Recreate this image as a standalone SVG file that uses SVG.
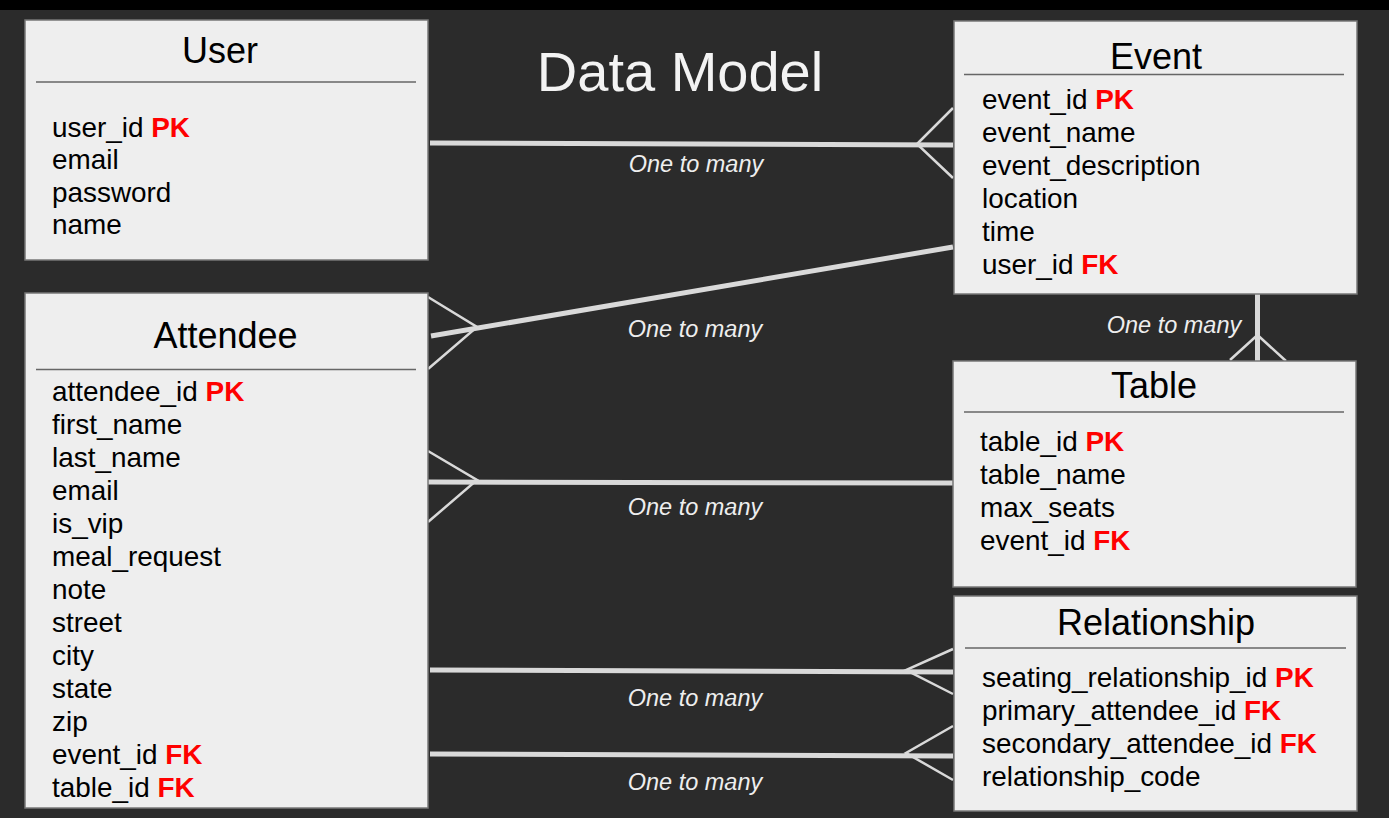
<svg xmlns="http://www.w3.org/2000/svg" width="1389" height="818" viewBox="0 0 1389 818">
<style>
.box{fill:#eeeeee;stroke:#777777;stroke-width:1.5}
.div{stroke:#666666;stroke-width:1.5}
.title{font-family:"Liberation Sans",Arial,sans-serif;font-size:36px;fill:#000;text-anchor:middle}
.f{font-family:"Liberation Sans",Arial,sans-serif;font-size:27.9px;fill:#000}
.k{fill:#ff0000;font-weight:bold}
.main{font-family:"Liberation Sans",Arial,sans-serif;font-size:56px;fill:#f3f3f3;text-anchor:middle}
.lbl{font-family:"Liberation Sans",Arial,sans-serif;font-size:23.5px;font-style:italic;fill:#eeeeee;text-anchor:middle}
.thick{stroke:#d9d9d9;stroke-width:5;fill:none}
.thin{stroke:#d9d9d9;stroke-width:2.5;fill:none}
</style>
<rect x="0" y="0" width="1389" height="818" fill="#2b2b2b"/>
<rect x="0" y="0" width="1389" height="10" fill="#000000"/>
<text class="main" x="680" y="91">Data Model</text>

<g id="connectors">
  <line class="thick" x1="430" y1="143" x2="953" y2="145"/>
  <polyline class="thin" points="953,108 917,144 953,178"/>
  <text class="lbl" x="696" y="172">One to many</text>

  <line class="thick" x1="431" y1="336" x2="953" y2="247"/>
  <polyline class="thin" points="428,297 477,327 428,369"/>
  <text class="lbl" x="695" y="337">One to many</text>

  <line class="thick" x1="1257.5" y1="294" x2="1257.5" y2="361"/>
  <polyline class="thin" points="1230,360 1257.5,335 1286,361"/>
  <text class="lbl" x="1174" y="333">One to many</text>

  <line class="thick" x1="428" y1="482" x2="953" y2="483"/>
  <polyline class="thin" points="428,451 477,480 428,522"/>
  <text class="lbl" x="695" y="515">One to many</text>

  <line class="thick" x1="430" y1="670" x2="953" y2="672"/>
  <polyline class="thin" points="953,649 906,670 953,694"/>
  <text class="lbl" x="695" y="706">One to many</text>

  <line class="thick" x1="430" y1="754" x2="953" y2="756"/>
  <polyline class="thin" points="953,726 906,753 953,780"/>
  <text class="lbl" x="695" y="790">One to many</text>
</g>

<g id="user">
  <rect class="box" x="25" y="20" width="403" height="240"/>
  <text class="title" x="220" y="63">User</text>
  <line class="div" x1="36" y1="82" x2="416" y2="82"/>
  <text class="f" x="52" y="136.5">user_id <tspan class="k">PK</tspan></text>
  <text class="f" x="52" y="169">email</text>
  <text class="f" x="52" y="201.7">password</text>
  <text class="f" x="52" y="234.3">name</text>
</g>

<g id="event">
  <rect class="box" x="954" y="21" width="403" height="273"/>
  <text class="title" x="1156" y="69">Event</text>
  <line class="div" x1="964" y1="74.5" x2="1344" y2="74.5"/>
  <text class="f" x="982" y="109">event_id <tspan class="k">PK</tspan></text>
  <text class="f" x="982" y="142">event_name</text>
  <text class="f" x="982" y="175">event_description</text>
  <text class="f" x="982" y="208">location</text>
  <text class="f" x="982" y="241">time</text>
  <text class="f" x="982" y="274">user_id <tspan class="k">FK</tspan></text>
</g>

<g id="attendee">
  <rect class="box" x="25" y="293" width="403" height="515"/>
  <text class="title" x="225.5" y="348">Attendee</text>
  <line class="div" x1="36" y1="369.5" x2="416" y2="369.5"/>
  <text class="f" x="52" y="401">attendee_id <tspan class="k">PK</tspan></text>
  <text class="f" x="52" y="434">first_name</text>
  <text class="f" x="52" y="467">last_name</text>
  <text class="f" x="52" y="500">email</text>
  <text class="f" x="52" y="533">is_vip</text>
  <text class="f" x="52" y="566">meal_request</text>
  <text class="f" x="52" y="599">note</text>
  <text class="f" x="52" y="632">street</text>
  <text class="f" x="52" y="665">city</text>
  <text class="f" x="52" y="698">state</text>
  <text class="f" x="52" y="731">zip</text>
  <text class="f" x="52" y="764">event_id <tspan class="k">FK</tspan></text>
  <text class="f" x="52" y="797">table_id <tspan class="k">FK</tspan></text>
</g>

<g id="table">
  <rect class="box" x="953" y="361" width="403" height="226"/>
  <text class="title" x="1154" y="398">Table</text>
  <line class="div" x1="964" y1="412" x2="1344" y2="412"/>
  <text class="f" x="980" y="451">table_id <tspan class="k">PK</tspan></text>
  <text class="f" x="980" y="484">table_name</text>
  <text class="f" x="980" y="517">max_seats</text>
  <text class="f" x="980" y="550">event_id <tspan class="k">FK</tspan></text>
</g>

<g id="relationship">
  <rect class="box" x="954" y="596" width="403" height="215"/>
  <text class="title" x="1156" y="635">Relationship</text>
  <line class="div" x1="965" y1="648" x2="1346" y2="648"/>
  <text class="f" x="982" y="687">seating_relationship_id <tspan class="k">PK</tspan></text>
  <text class="f" x="982" y="720">primary_attendee_id <tspan class="k">FK</tspan></text>
  <text class="f" x="982" y="753">secondary_attendee_id <tspan class="k">FK</tspan></text>
  <text class="f" x="982" y="786">relationship_code</text>
</g>
</svg>
